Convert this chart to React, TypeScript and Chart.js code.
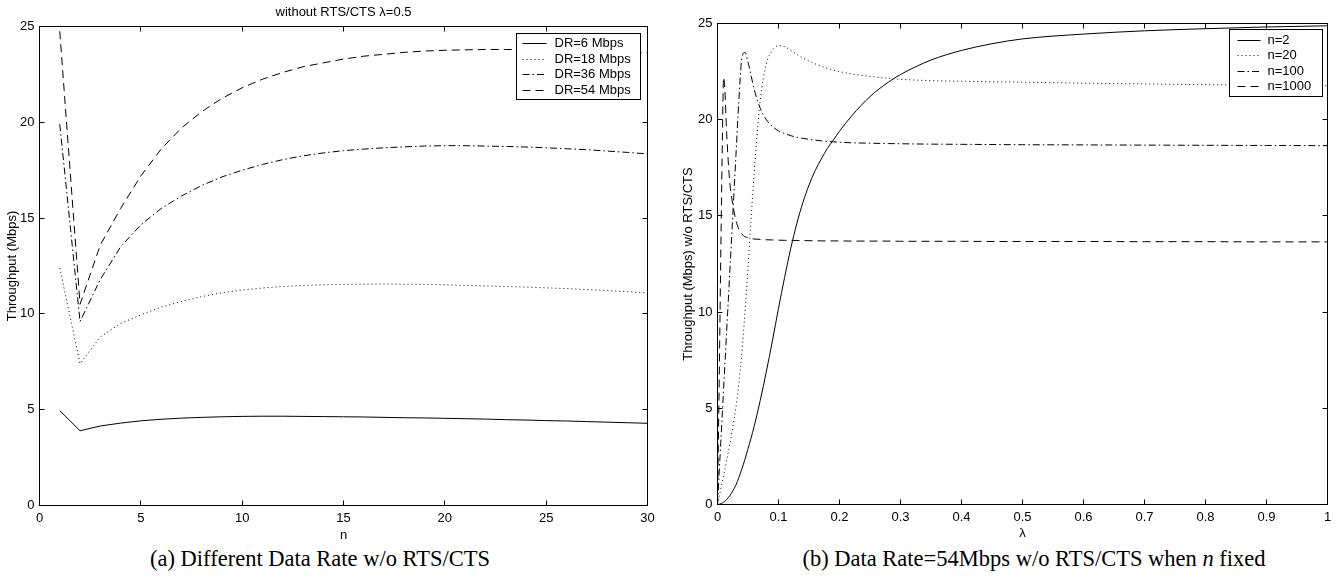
import React, { useEffect, useRef } from "react";
import { Chart, registerables } from "chart.js";

Chart.register(...registerables);

// ---------- Left chart (a): throughput vs n ----------
const nValues = [1, 2, 3, 4, 5, 6, 7, 8, 9, 10, 11, 12, 13, 14, 15, 16, 17, 18, 19, 20, 21, 22, 23, 24, 25, 26, 27, 28, 29, 30];
const dr6Mbps = [4.95, 3.9, 4.15, 4.3, 4.42, 4.5, 4.56, 4.6, 4.63, 4.65, 4.66, 4.66, 4.65, 4.64, 4.63, 4.62, 4.6, 4.58, 4.57, 4.55, 4.53, 4.51, 4.48, 4.46, 4.43, 4.41, 4.38, 4.35, 4.32, 4.29];
const dr18Mbps = [12.4, 7.4, 8.8, 9.5, 9.95, 10.35, 10.65, 10.9, 11.1, 11.25, 11.35, 11.43, 11.48, 11.52, 11.54, 11.55, 11.56, 11.55, 11.54, 11.52, 11.49, 11.46, 11.43, 11.4, 11.36, 11.32, 11.27, 11.22, 11.16, 11.1];
const dr36Mbps = [19.9, 9.6, 11.8, 13.5, 14.65, 15.5, 16.15, 16.7, 17.15, 17.5, 17.8, 18.05, 18.25, 18.4, 18.52, 18.6, 18.67, 18.72, 18.76, 18.78, 18.78, 18.76, 18.74, 18.71, 18.67, 18.62, 18.57, 18.5, 18.43, 18.35];
const dr54Mbps = [24.75, 10.5, 13.6, 15.5, 17.2, 18.6, 19.7, 20.55, 21.25, 21.8, 22.25, 22.6, 22.9, 23.1, 23.3, 23.45, 23.55, 23.65, 23.72, 23.76, 23.78, 23.8, 23.8, 23.79, 23.78, 23.76, 23.73, 23.7, 23.66, 23.62];
const leftLegendLabels = ["DR=6 Mbps", "DR=18 Mbps", "DR=36 Mbps", "DR=54 Mbps"];
const leftXTickLabels = ["0", "5", "10", "15", "20", "25", "30"];
const yTickLabels = ["0", "5", "10", "15", "20", "25"];
const leftTitle = "without RTS/CTS \u03bb=0.5";
const leftXTitle = "n";
const leftYTitle = "Throughput (Mbps)";
const leftCaption = "(a) Different Data Rate w/o RTS/CTS";

// ---------- Right chart (b): throughput vs lambda ----------
const lambdaValues = [0, 0.002, 0.004, 0.006, 0.008, 0.01, 0.012, 0.015, 0.02, 0.025, 0.03, 0.035, 0.04, 0.045, 0.05, 0.055, 0.06, 0.07, 0.08, 0.09, 0.1, 0.11, 0.12, 0.13, 0.14, 0.15, 0.16, 0.17, 0.18, 0.19, 0.2, 0.22, 0.25, 0.28, 0.3, 0.35, 0.4, 0.45, 0.5, 0.6, 0.7, 0.8, 0.9, 1.0];
const n2 = [0, 0.01, 0.02, 0.05, 0.08, 0.12, 0.17, 0.26, 0.45, 0.7, 1.0, 1.4, 1.85, 2.35, 2.9, 3.45, 4.05, 5.4, 6.9, 8.5, 10.2, 11.8, 13.3, 14.6, 15.7, 16.6, 17.35, 17.95, 18.5, 18.95, 19.4, 20.2, 21.2, 21.95, 22.35, 23.1, 23.6, 23.95, 24.2, 24.45, 24.62, 24.73, 24.82, 24.88];
const n20 = [0, 0.3, 0.6, 0.9, 1.2, 1.5, 1.8, 2.3, 3.1, 4.0, 5.0, 6.3, 7.9, 10.0, 12.3, 14.8, 17.2, 21.0, 22.9, 23.6, 23.85, 23.8, 23.6, 23.4, 23.2, 23.05, 22.9, 22.78, 22.67, 22.58, 22.5, 22.38, 22.25, 22.15, 22.1, 22.03, 22.0, 21.97, 21.95, 21.9, 21.86, 21.82, 21.79, 21.76];
const n100 = [0, 1.2, 2.4, 3.6, 4.8, 6.0, 7.2, 9.0, 12.0, 15.0, 18.0, 21.0, 23.2, 23.5, 23.0, 22.3, 21.6, 20.6, 20.0, 19.65, 19.42, 19.28, 19.17, 19.09, 19.03, 18.98, 18.94, 18.9, 18.87, 18.85, 18.83, 18.8, 18.78, 18.76, 18.75, 18.73, 18.72, 18.71, 18.7, 18.69, 18.68, 18.67, 18.66, 18.65];
const n1000 = [0, 4.5, 9.5, 14.5, 19.0, 22.2, 21.6, 19.3, 16.8, 15.6, 14.8, 14.3, 14.05, 13.92, 13.86, 13.82, 13.8, 13.78, 13.76, 13.75, 13.74, 13.73, 13.73, 13.72, 13.72, 13.71, 13.71, 13.7, 13.7, 13.7, 13.7, 13.69, 13.69, 13.69, 13.68, 13.68, 13.68, 13.67, 13.67, 13.67, 13.66, 13.66, 13.65, 13.65];
const rightLegendLabels = ["n=2", "n=20", "n=100", "n=1000"];
const rightXTickLabels = ["0", "0.1", "0.2", "0.3", "0.4", "0.5", "0.6", "0.7", "0.8", "0.9", "1"];
const rightXTitle = "\u03bb";
const rightYTitle = "Throughput (Mbps) w/o RTS/CTS";

// line styles (solid, dotted, dash-dot, dashed)
const SOLID: number[] = [];
const DOTTED = [1, 3];
const DASHDOT = [7, 3, 1.5, 3];
const DASHED = [8, 5];
const STYLES = [SOLID, DOTTED, DASHDOT, DASHED];

const FONT = "'Liberation Sans', Arial, Helvetica, sans-serif";

const framePlugin = {
  id: "matlabFrame",
  afterDatasetsDraw(chart: any) {
    const { ctx, chartArea: a, scales } = chart;
    const len = 5;
    ctx.save();
    ctx.strokeStyle = "#000";
    ctx.lineWidth = 1;
    ctx.setLineDash([]);
    ctx.strokeRect(a.left, a.top, a.right - a.left, a.bottom - a.top);
    ctx.beginPath();
    for (const t of scales.x.ticks) {
      const px = Math.floor(scales.x.getPixelForValue(t.value)) + 0.5;
      ctx.moveTo(px, a.bottom);
      ctx.lineTo(px, a.bottom - len);
      ctx.moveTo(px, a.top);
      ctx.lineTo(px, a.top + len);
    }
    for (const t of scales.y.ticks) {
      const py = Math.floor(scales.y.getPixelForValue(t.value)) + 0.5;
      ctx.moveTo(a.left, py);
      ctx.lineTo(a.left + len, py);
      ctx.moveTo(a.right, py);
      ctx.lineTo(a.right - len, py);
    }
    ctx.stroke();
    ctx.restore();
  },
};

type LegendGeom = {
  marginRight: number;
  marginTop: number;
  width: number;
  height: number;
  firstRow: number;
  pitch: number;
  lineX0: number;
  lineX1: number;
  textX: number;
  fontSize: number;
};

function makeLegendPlugin(labels: string[], geom: LegendGeom) {
  return {
    id: "lineLegend",
    afterDraw(chart: any) {
      const { ctx, chartArea: a } = chart;
      const left = Math.round(a.right - geom.marginRight - geom.width) + 0.5;
      const top = Math.round(a.top + geom.marginTop) + 0.5;
      ctx.save();
      ctx.fillStyle = "#fff";
      ctx.fillRect(left, top, geom.width, geom.height);
      ctx.strokeStyle = "#000";
      ctx.lineWidth = 1;
      ctx.setLineDash([]);
      ctx.strokeRect(left, top, geom.width, geom.height);
      ctx.font = `${geom.fontSize}px ${FONT}`;
      ctx.textBaseline = "middle";
      ctx.textAlign = "left";
      labels.forEach((label, i) => {
        const y = Math.round(top + geom.firstRow + i * geom.pitch) + 0.5;
        ctx.beginPath();
        ctx.setLineDash(STYLES[i]);
        ctx.moveTo(left + geom.lineX0, y);
        ctx.lineTo(left + geom.lineX1, y);
        ctx.stroke();
        ctx.setLineDash([]);
        ctx.fillStyle = "#000";
        ctx.fillText(label, left + geom.textX, y);
      });
      ctx.restore();
    },
  };
}

function lineDataset(label: string, data: any[], i: number, smooth: boolean) {
  return {
    label,
    data,
    borderColor: "#000",
    backgroundColor: "#000",
    borderWidth: 1,
    borderDash: STYLES[i],
    pointRadius: 0,
    fill: false,
    tension: 0,
    cubicInterpolationMode: smooth ? "monotone" : "default",
  };
}

export default function App() {
  const leftRef = useRef<HTMLCanvasElement>(null);
  const rightRef = useRef<HTMLCanvasElement>(null);

  useEffect(() => {
    document.body.style.margin = "0";
    Chart.defaults.color = "#000";
    Chart.defaults.font.family = FONT;

    const leftSeries = [dr6Mbps, dr18Mbps, dr36Mbps, dr54Mbps];
    const left = new Chart(leftRef.current as HTMLCanvasElement, {
      type: "line",
      data: {
        datasets: leftSeries.map((s, i) =>
          lineDataset(leftLegendLabels[i], s.map((v, k) => ({ x: nValues[k], y: v })), i, false)
        ),
      } as any,
      options: {
        animation: false,
        responsive: false,
        devicePixelRatio: 1,
        layout: { padding: { left: 0, right: 24.5, top: 0, bottom: 0 } },
        plugins: {
          legend: { display: false },
          tooltip: { enabled: false },
          title: {
            display: true,
            text: leftTitle,
            fullSize: false,
            font: { size: 13, family: FONT, weight: "normal" },
            color: "#000",
            padding: { top: 5, bottom: 5.9 },
          },
        },
        scales: {
          x: {
            type: "linear",
            min: 0,
            max: 30,
            grid: { display: false, drawTicks: false },
            border: { display: false },
            ticks: {
              stepSize: 5,
              padding: 5,
              maxRotation: 0,
              font: { size: 13, family: FONT },
              color: "#000",
              callback: (_v: any, i: number) => leftXTickLabels[i],
            },
            title: {
              display: true,
              text: leftXTitle,
              font: { size: 13, family: FONT },
              color: "#000",
              padding: { top: 0, bottom: 2 },
            },
            afterFit: (s: any) => {
              s.height = 39.5;
            },
          },
          y: {
            type: "linear",
            min: 0,
            max: 25,
            grid: { display: false, drawTicks: false },
            border: { display: false },
            ticks: {
              stepSize: 5,
              padding: 5,
              font: { size: 13, family: FONT },
              color: "#000",
              callback: (_v: any, i: number) => yTickLabels[i],
            },
            title: {
              display: true,
              text: leftYTitle,
              font: { size: 13, family: FONT },
              color: "#000",
              padding: { top: 5, bottom: 0 },
            },
            afterFit: (s: any) => {
              s.width = 39.5;
            },
          },
        },
      } as any,
      plugins: [
        framePlugin,
        makeLegendPlugin(leftLegendLabels, {
          marginRight: 7.5,
          marginTop: 6.5,
          width: 124,
          height: 66,
          firstRow: 9.7,
          pitch: 15.5,
          lineX0: 6,
          lineX1: 30,
          textX: 38,
          fontSize: 13,
        }),
      ],
    });

    const rightSeries = [n2, n20, n100, n1000];
    const right = new Chart(rightRef.current as HTMLCanvasElement, {
      type: "line",
      data: {
        datasets: rightSeries.map((s, i) =>
          lineDataset(rightLegendLabels[i], s.map((v, k) => ({ x: lambdaValues[k], y: v })), i, true)
        ),
      } as any,
      options: {
        animation: false,
        responsive: false,
        devicePixelRatio: 1,
        layout: { padding: { left: 0, right: 15.5, top: 23.5, bottom: 0 } },
        plugins: {
          legend: { display: false },
          tooltip: { enabled: false },
          title: { display: false },
        },
        scales: {
          x: {
            type: "linear",
            min: 0,
            max: 1,
            grid: { display: false, drawTicks: false },
            border: { display: false },
            ticks: {
              stepSize: 0.1,
              padding: 5,
              maxRotation: 0,
              autoSkip: false,
              font: { size: 13, family: FONT },
              color: "#000",
              callback: (_v: any, i: number) => rightXTickLabels[i],
            },
            title: {
              display: true,
              text: rightXTitle,
              font: { size: 13, family: FONT },
              color: "#000",
              padding: { top: 0, bottom: 4 },
            },
            afterFit: (s: any) => {
              s.height = 40.5;
            },
          },
          y: {
            type: "linear",
            min: 0,
            max: 25,
            grid: { display: false, drawTicks: false },
            border: { display: false },
            ticks: {
              stepSize: 5,
              padding: 5,
              font: { size: 13, family: FONT },
              color: "#000",
              callback: (_v: any, i: number) => yTickLabels[i],
            },
            title: {
              display: true,
              text: rightYTitle,
              font: { size: 13, family: FONT },
              color: "#000",
              padding: { top: 9, bottom: 0 },
            },
            afterFit: (s: any) => {
              s.width = 45.5;
            },
          },
        },
      } as any,
      plugins: [
        framePlugin,
        makeLegendPlugin(rightLegendLabels, {
          marginRight: 5.5,
          marginTop: 5.5,
          width: 93,
          height: 67,
          firstRow: 10.5,
          pitch: 15.3,
          lineX0: 8,
          lineX1: 31,
          textX: 38,
          fontSize: 13,
        }),
      ],
    });

    return () => {
      left.destroy();
      right.destroy();
    };
  }, []);

  const captionStyle: React.CSSProperties = {
    position: "absolute",
    top: 546,
    width: 700,
    textAlign: "center",
    fontFamily: "'Liberation Serif', 'Times New Roman', serif",
    fontSize: 22.5,
    lineHeight: "26px",
    color: "#000",
    whiteSpace: "nowrap",
  };

  return (
    <div
      style={{
        position: "absolute",
        left: 0,
        top: 0,
        width: 1343,
        height: 586,
        background: "#fff",
        overflow: "hidden",
      }}
    >
      <canvas ref={leftRef} width={672} height={545} style={{ position: "absolute", left: 0, top: 0, width: 672, height: 545 }} />
      <canvas ref={rightRef} width={671} height={545} style={{ position: "absolute", left: 672, top: 0, width: 671, height: 545 }} />
      <div style={{ ...captionStyle, left: 320 - 350 }}>{leftCaption}</div>
      <div style={{ ...captionStyle, left: 1034 - 350 }}>
        (b) Data Rate=54Mbps w/o RTS/CTS when <i>n</i> fixed
      </div>
    </div>
  );
}
